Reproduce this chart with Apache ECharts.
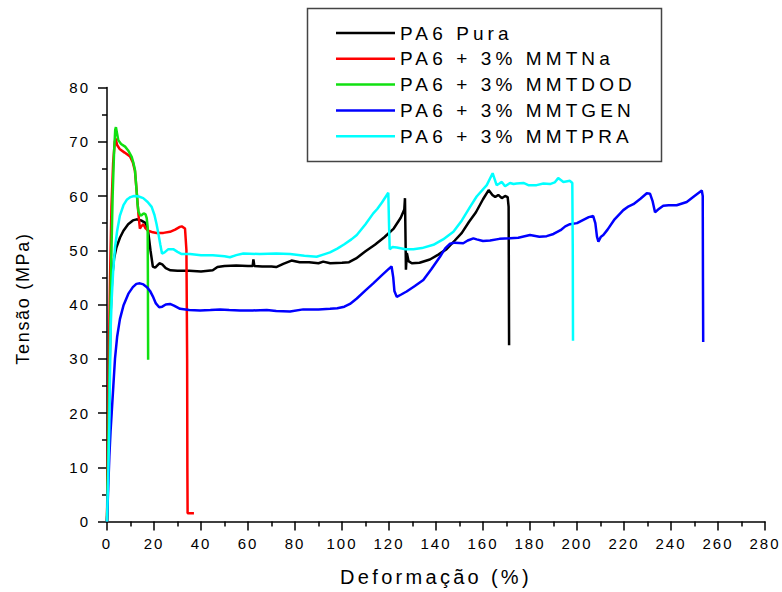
<!DOCTYPE html>
<html>
<head>
<meta charset="utf-8">
<script src="https://cdn.jsdelivr.net/npm/echarts@6/dist/echarts.min.js"></script>
<style>
  html, body { margin: 0; padding: 0; background: #fff; }
  #chart { width: 782px; height: 592px; }
  #chart svg text[style*="15px"] { letter-spacing: 2px; }
  #chart svg text[style*="18px"] { letter-spacing: 1.7px; }
  #chart svg text[style*="19px"] { letter-spacing: 4.1px; }
  #chart svg text[style*="20px"] { letter-spacing: 3.3px; }
</style>
</head>
<body>
<div id="chart"></div>
<script>
// ---- Data: [deformation %, stress MPa] ----
const seriesNames = ['PA6 Pura', 'PA6 + 3% MMTNa', 'PA6 + 3% MMTDOD', 'PA6 + 3% MMTGEN', 'PA6 + 3% MMTPRA'];

const pa6Pura = [
  [0,0],[0.5,12],[1,25],[1.5,38],[2.2,45],[3,48.5],[4,50.5],[5.5,52.3],[7,53.6],[9,54.8],[11,55.5],[12.6,55.7],
  [14.5,55.5],[16.5,55.0],[17.5,53.5],[18.5,50],[19.5,47],[20.5,46.8],[22.3,47.6],[23.5,47.4],[25,46.7],[27,46.3],
  [30,46.2],[35,46.2],[40,46.1],[45,46.3],[47,46.9],[50,47.1],[55,47.2],[60,47.1],[62,47.1],[62.3,48.3],[62.7,47.1],
  [66,47.0],[70,47.0],[72,46.9],[75,47.5],[78.5,48.1],[82,47.8],[86,47.8],[90,47.6],[92,47.9],[95,47.6],[100,47.7],
  [103,47.8],[106,48.5],[110,49.8],[114,51.0],[118,52.4],[122,54.0],[125,56.0],[126.5,57.5],[126.8,59.6],[127.1,50],
  [127.2,46.4],[127.6,49.5],[128.3,48.0],[129.7,47.6],[133,47.7],[137.4,48.3],[141,49.2],[144.5,50.2],[148,51.8],
  [151,53.2],[154,55.2],[157,57.0],[160,59.4],[162.4,61.1],[164,60.2],[165.2,59.8],[166.5,60.2],[168,59.6],
  [169.4,60.0],[170.5,59.8],[170.9,58],[171,45],[171.1,32.5]
];

const pa6MMTNa = [
  [0,0],[0.4,15],[0.8,30],[1.3,45],[1.9,58],[2.6,66],[3.3,70],[3.7,70.6],[4.3,69.4],[5.5,68.6],[7.5,68.0],[9.8,67.3],
  [11,66.2],[11.9,64.6],[12.7,60.5],[13.4,56.5],[14,54],[14.6,54.4],[15.5,54.8],[16.3,54.1],[17.6,53.6],[19.5,53.3],
  [21.1,53.2],[24,53.2],[26.8,53.4],[29,53.8],[31,54.3],[31.8,54.4],[33.2,54.0],[33.8,50],[34.1,30],[34.2,10],
  [34.3,1.5],[37,1.5]
];

const pa6MMTDOD = [
  [0,0],[0.6,15],[1.2,32],[1.8,48],[2.4,60],[3.0,68],[3.5,72.2],[3.8,72.7],[4.3,71.5],[4.8,70.3],[6,69.6],[7.7,69.1],
  [9,68.4],[10.5,67.2],[11.3,66],[11.9,64.8],[12.5,61.5],[13.0,58.5],[13.4,57.1],[14.2,56.4],[14.8,56.5],[15.6,56.8],
  [16.4,56.6],[16.9,55.9],[17.3,54.3],[17.4,45],[17.5,29.8]
];

const pa6MMTGEN = [
  [0,0],[0.5,6],[1,12],[1.5,16.5],[2,20],[2.7,25],[3.4,30],[4.3,34],[5.5,37.3],[7,39.8],[9.1,42],[11,43.2],[12.5,43.8],
  [14,43.9],[15.5,43.7],[17,43.2],[18.3,42.5],[19.5,41.5],[20.8,40.2],[22.2,39.5],[23.5,39.6],[25,40.0],[26.8,40.1],
  [28.5,39.8],[31.1,39.2],[35,39.0],[39.6,38.9],[44,39.0],[48.1,39.1],[52,39.0],[56.6,38.9],[62,38.9],[68,39.0],
  [72,38.8],[77.9,38.7],[83.5,39.1],[90,39.1],[94.9,39.2],[98,39.3],[101,39.6],[103.4,40.1],[106.3,41.1],[110,42.6],
  [113.3,43.9],[117,45.4],[120,46.6],[121.1,47],[121.8,45],[122.3,42.5],[123.3,41.4],[125,41.8],[127.5,42.4],
  [131,43.4],[134.6,44.5],[138,46.5],[141.7,48.8],[144,50.4],[146,51.2],[148,51.4],[151.6,51.3],[153.5,51.8],
  [155.9,52.2],[157.3,52],[160,51.7],[163,51.8],[167,52.1],[171.5,52.2],[175,52.3],[180,52.8],[184,52.5],[187.1,52.6],
  [190,53],[193,53.7],[195,54.4],[197,54.8],[200,55.0],[202.7,55.6],[205,56.1],[206.9,56.3],[207.8,55],[208.5,52.5],
  [209.1,51.6],[210.2,52.5],[211.2,52.8],[213,53.8],[216,55.7],[219.7,57.4],[222,58.1],[224,58.5],[227,59.5],
  [229.7,60.5],[231.1,60.4],[232.2,59],[233.2,57],[234.5,57.5],[236.7,58.2],[239,58.3],[242.4,58.3],[246.7,58.9],
  [250,60],[253.1,61],[253.5,60],[253.6,45],[253.7,33.1]
];

const pa6MMTPRA = [
  [0,0],[0.5,8],[1.0,18],[1.3,28],[1.6,36],[2,41],[2.6,46],[3.4,50.5],[4.3,53.5],[5.5,56.4],[7,58.3],[8.4,59.3],
  [10,59.8],[11.5,60],[13.5,59.9],[15.4,59.6],[17.3,58.9],[19,58],[20.2,56.5],[21.1,54.8],[21.8,53.2],[22.7,51],
  [23.4,49.4],[24.5,49.6],[26.1,50.2],[28.2,50.2],[30,49.7],[31.8,49.3],[35.3,49.3],[40,49.1],[45,49.1],[50,48.9],
  [52.3,48.7],[55,49.1],[58,49.4],[65,49.3],[72,49.4],[77.9,49.3],[84,49.0],[89.2,48.8],[92,49.2],[94.9,49.6],
  [98,50.3],[101,51.1],[104,52.0],[106.3,52.8],[110,54.8],[113.3,56.8],[115,57.6],[117,58.8],[119.7,60.6],[120,55],
  [120.3,50.2],[121.5,50.6],[123.3,50.5],[127,50.2],[130.4,50.2],[134,50.4],[138.9,51],[143,52],[147.4,53.4],
  [151,55.5],[154.5,58],[157.3,59.9],[161.6,62],[164.1,64.2],[165.8,62],[167,62.3],[168,62.6],[169.4,61.8],
  [171.5,62.4],[173,62.2],[174.3,62.3],[177.2,62.4],[179.3,62],[182.8,62],[185.7,62.3],[188.5,62.2],[190.5,62.5],
  [192,63.3],[194.2,62.6],[197,62.8],[198,62.4],[198.2,50],[198.3,33.3]
];

const seriesData = [pa6Pura, pa6MMTNa, pa6MMTDOD, pa6MMTGEN, pa6MMTPRA];
const seriesColors = ['#000000', '#ff0000', '#11e011', '#0000ff', '#00ffff'];

const xAxisName = 'Deformação (%)';
const yAxisName = 'Tensão (MPa)';

// ---- Chart ----
const FONT = '"Liberation Sans", Arial, sans-serif';
const chart = echarts.init(document.getElementById('chart'), null, { renderer: 'svg' });

const axisCommon = {
  type: 'value',
  splitLine: { show: false },
  axisLine: { show: true, onZero: false, lineStyle: { color: '#000', width: 1.5 } },
  axisTick: { show: true, inside: false, length: 9, lineStyle: { color: '#000', width: 1.5 } },
  minorTick: { show: true, splitNumber: 2, length: 5, lineStyle: { color: '#000', width: 1.5 } },
  minorSplitLine: { show: false },
  axisLabel: { color: '#000', fontSize: 15, fontFamily: FONT },
  nameLocation: 'middle'
};

chart.setOption({
  animation: false,
  backgroundColor: '#fff',
  grid: { left: 107, right: 17, top: 87.5, bottom: 70.5, containLabel: false, outerBoundsMode: 'none' },
  xAxis: Object.assign({}, axisCommon, {
    min: 0, max: 280, interval: 20,
    name: xAxisName, nameGap: 45,
    nameTextStyle: { color: '#000', fontSize: 20, fontFamily: FONT },
    axisLabel: Object.assign({}, axisCommon.axisLabel, { margin: 14, showMaxLabel: true, showMinLabel: true })
  }),
  yAxis: Object.assign({}, axisCommon, {
    min: 0, max: 80, interval: 10,
    name: yAxisName, nameGap: 75,
    nameTextStyle: { color: '#000', fontSize: 18, fontFamily: FONT, padding: [0, 0, 0, 12] },
    axisLabel: Object.assign({}, axisCommon.axisLabel, { margin: 17 })
  }),
  graphic: [{
    type: 'rect', z: 50,
    shape: { x: 307.5, y: 8.5, width: 354, height: 153 },
    style: { fill: '#fff', stroke: '#444', lineWidth: 1.5 }
  }],
  legend: {
    show: true, z: 60,
    orient: 'vertical',
    left: 336, top: 23.5,
    padding: 0,
    icon: 'rect',
    itemWidth: 59, itemHeight: 2.5, itemGap: 6.8,
    selectedMode: false,
    textStyle: { color: '#000', fontSize: 19, fontFamily: FONT, lineHeight: 19 },
    data: seriesNames
  },
  series: seriesData.map((d, i) => ({
    name: seriesNames[i],
    type: 'line',
    data: d,
    showSymbol: false,
    symbol: 'none',
    color: seriesColors[i],
    itemStyle: { color: seriesColors[i] },
    lineStyle: { color: seriesColors[i], width: 2.5 },
    z: 2 + i
  }))
});
</script>
</body>
</html>
